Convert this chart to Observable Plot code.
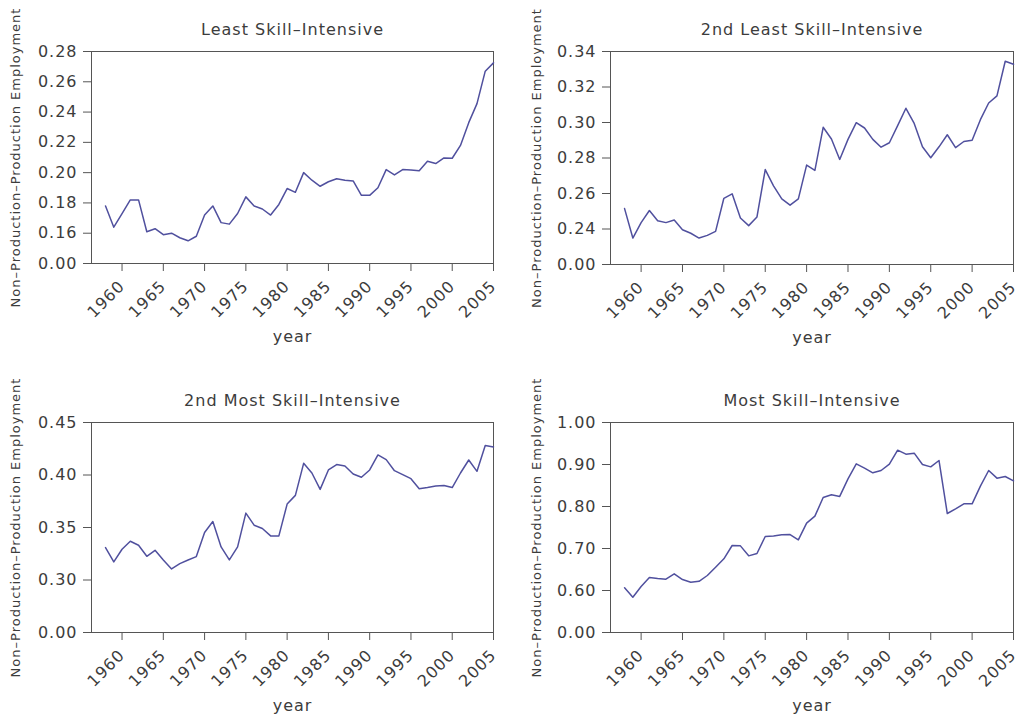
<!DOCTYPE html>
<html><head><meta charset="utf-8">
<script src="https://cdn.jsdelivr.net/npm/d3@7"></script>
<script src="https://cdn.jsdelivr.net/npm/@observablehq/plot@0.6"></script>
<style>
html,body{margin:0;padding:0;background:#fff;overflow:hidden}
#grid{display:grid;grid-template-columns:510px 510px;grid-template-rows:371px 346px;width:1020px;height:717px}
#grid svg{display:block}
svg text{letter-spacing:1px}
</style></head><body><div id="grid"></div>
<script>
const years = [1958,1959,1960,1961,1962,1963,1964,1965,1966,1967,1968,1969,1970,1971,1972,1973,1974,1975,1976,1977,1978,1979,1980,1981,1982,1983,1984,1985,1986,1987,1988,1989,1990,1991,1992,1993,1994,1995,1996,1997,1998,1999,2000,2001,2002,2003,2004,2005];

const leastSkill = [0.178,0.164,0.173,0.182,0.182,0.161,0.163,0.159,0.160,0.157,0.155,0.158,0.172,0.178,0.167,0.166,0.173,0.184,0.178,0.176,0.172,0.179,0.1895,0.187,0.200,0.195,0.191,0.194,0.196,0.195,0.1945,0.185,0.185,0.190,0.202,0.1985,0.202,0.2018,0.2013,0.2075,0.206,0.2097,0.2095,0.218,0.233,0.2456,0.267,0.2725];

const secondLeastSkill = [0.2515,0.2349,0.2436,0.2504,0.2447,0.2436,0.2451,0.2396,0.2376,0.2349,0.2364,0.2387,0.2573,0.2598,0.2462,0.2419,0.2468,0.2735,0.2643,0.257,0.2534,0.257,0.276,0.273,0.2973,0.2907,0.2792,0.2905,0.2999,0.2969,0.2905,0.2861,0.2886,0.2982,0.308,0.2995,0.2863,0.2801,0.2863,0.2931,0.2858,0.2893,0.290,0.3016,0.311,0.315,0.3345,0.3328];

const secondMostSkill = [0.3309,0.3172,0.3293,0.3369,0.3331,0.3226,0.3283,0.3191,0.3105,0.3156,0.3191,0.3223,0.3452,0.3557,0.3315,0.3191,0.3315,0.3637,0.3522,0.349,0.342,0.342,0.3723,0.3806,0.4111,0.4019,0.3863,0.4048,0.4099,0.4085,0.401,0.3978,0.4048,0.4191,0.4146,0.4041,0.4003,0.3965,0.3869,0.388,0.3895,0.390,0.388,0.4019,0.4143,0.4035,0.428,0.4267];

const mostSkill = [0.6063,0.5841,0.6095,0.6309,0.6286,0.627,0.6397,0.626,0.6198,0.622,0.6357,0.6555,0.6754,0.7071,0.7063,0.6825,0.6881,0.7286,0.730,0.7325,0.7333,0.7206,0.7603,0.777,0.8214,0.8278,0.824,0.8659,0.9016,0.8913,0.8802,0.8857,0.9008,0.9341,0.9246,0.927,0.900,0.8944,0.9095,0.7833,0.7944,0.8063,0.8063,0.8484,0.8857,0.8675,0.8714,0.8611];

const panelTitles = ["Least Skill\u2013Intensive","2nd Least Skill\u2013Intensive","2nd Most Skill\u2013Intensive","Most Skill\u2013Intensive"];

// tick positions (bottom one is an axis break drawn as "0.00")
const yTicksLeast = [0.14,0.16,0.18,0.20,0.22,0.24,0.26,0.28];
const yLabelsLeast = ["0.00","0.16","0.18","0.20","0.22","0.24","0.26","0.28"];
const yTicks2Least = [0.22,0.24,0.26,0.28,0.30,0.32,0.34];
const yLabels2Least = ["0.00","0.24","0.26","0.28","0.30","0.32","0.34"];
const yTicks2Most = [0.25,0.30,0.35,0.40,0.45];
const yLabels2Most = ["0.00","0.30","0.35","0.40","0.45"];
const yTicksMost = [0.5,0.6,0.7,0.8,0.9,1.0];
const yLabelsMost = ["0.00","0.60","0.70","0.80","0.90","1.00"];

const xTicks = [1960,1965,1970,1975,1980,1985,1990,1995,2000,2005];
const yTitle = "Non\u2013Production\u2013Production Employment";
const xTitle = "year";

const ink = "#3c3c3c";
const lineColor = "#50509e";

function panel(title, values, yTicks, yLabels, mLeft, mRight, h, mBottom, ylabDx) {
  const data = years.map((year, i) => ({year, value: values[i]}));
  const lab = new Map(yTicks.map((t, i) => [t, yLabels[i]]));
  return Plot.plot({
    width: 510, height: h,
    marginTop: 51, marginBottom: mBottom, marginLeft: mLeft, marginRight: mRight,
    style: {fontFamily: "'DejaVu Sans', sans-serif", color: ink, background: "white", overflow: "visible"},
    x: {domain: [1956.3, 2005]},
    y: {domain: [yTicks[0], yTicks[yTicks.length - 1]]},
    marks: [
      Plot.axisY({ticks: yTicks, tickFormat: d => lab.get(d), tickSize: 8, tickPadding: 6, fontSize: 16, label: null, stroke: "#555"}),
      Plot.axisX({ticks: xTicks, tickFormat: d => `${d}`, tickRotate: -45, tickSize: 8, tickPadding: 12, fontSize: 16, label: null, stroke: "#555"}),
      Plot.frame({stroke: "#555"}),
      Plot.line(data, {x: "year", y: "value", stroke: lineColor, strokeWidth: 1.5}),
      Plot.text([title], {text: d => d, frameAnchor: "top", dy: -22, fontSize: 16, lineAnchor: "middle", fill: ink}),
      Plot.text([yTitle], {text: d => d, frameAnchor: "left", textAnchor: "middle", dx: ylabDx, rotate: -90, fontSize: 13, lineAnchor: "middle", fill: ink}),
      Plot.text([xTitle], {text: d => d, frameAnchor: "bottom", dy: 73, fontSize: 16, lineAnchor: "middle", fill: ink})
    ]
  });
}

const grid = document.getElementById("grid");
grid.append(
  panel(panelTitles[0], leastSkill, yTicksLeast, yLabelsLeast, 91, 17, 371, 108, -76),
  panel(panelTitles[1], secondLeastSkill, yTicks2Least, yLabels2Least, 100, 7, 371, 107, -74),
  panel(panelTitles[2], secondMostSkill, yTicks2Most, yLabels2Most, 91, 17, 346, 85, -76),
  panel(panelTitles[3], mostSkill, yTicksMost, yLabelsMost, 100, 7, 346, 85, -74)
);
</script>
</body></html>
